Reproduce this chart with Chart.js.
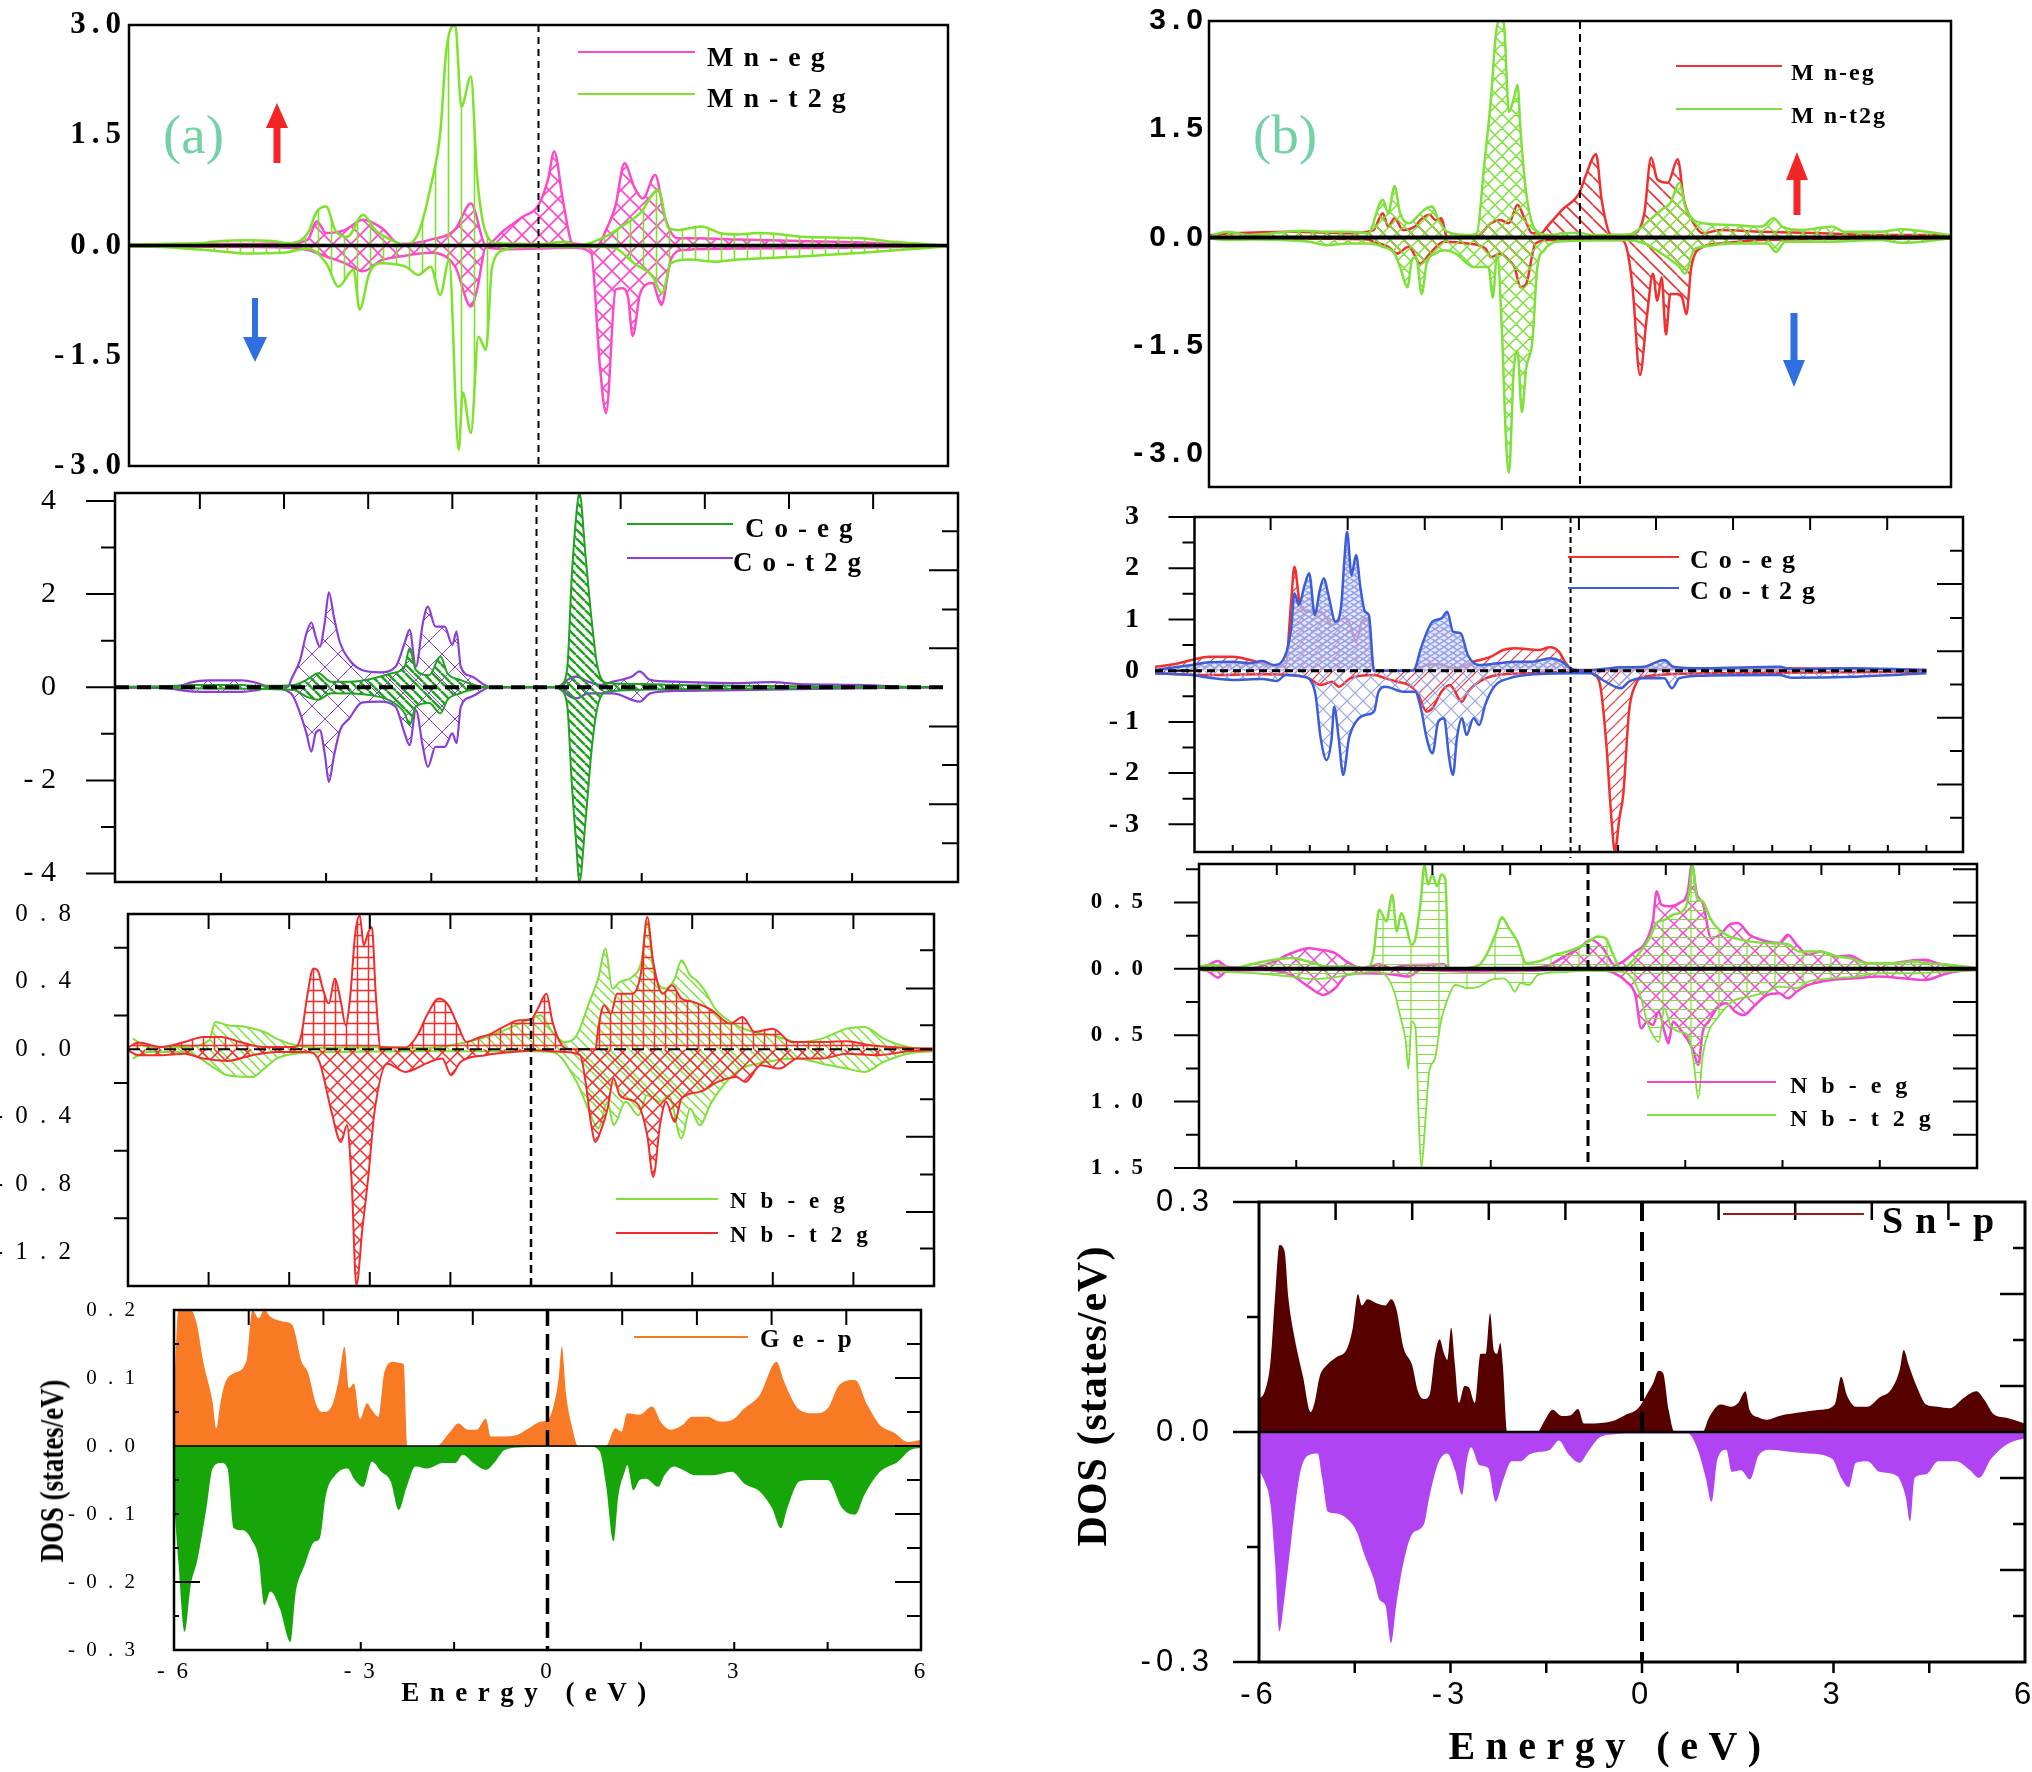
<!DOCTYPE html>
<html><head><meta charset="utf-8">
<script src="https://cdn.jsdelivr.net/npm/chart.js"></script>
<style>
html,body{margin:0;padding:0;background:#fff;}
body{width:2032px;height:1772px;position:relative;overflow:hidden;}
canvas{position:absolute;z-index:1;}
.t{position:absolute;white-space:nowrap;line-height:1;font-family:"Liberation Serif",serif;font-weight:bold;color:#000;transform:translateY(-50%);z-index:3;}
.ln{position:absolute;height:0;z-index:3;}
.c{transform:translate(-50%,-50%);}
svg{position:absolute;left:0;top:0;z-index:3;}
</style></head><body>

<div class="t" style="left:163px;top:134px;font-size:55px;font-weight:normal;color:#72d2a6;">(a)</div>
<div class="t" style="left:1253px;top:134px;font-size:55px;font-weight:normal;color:#72d2a6;">(b)</div>

<div class="ln" style="left:578px;top:51px;width:117px;border-top:2.5px solid #ff48c8;"></div>
<div class="ln" style="left:578px;top:93px;width:117px;border-top:2.5px solid #7ce22a;"></div>
<div class="t" style="left:707px;top:57px;font-size:28px;letter-spacing:10px;">Mn-eg</div>
<div class="t" style="left:707px;top:98px;font-size:28px;letter-spacing:10px;">Mn-t2g</div>

<div class="ln" style="left:627px;top:523px;width:106px;border-top:2px solid #22a022;"></div>
<div class="ln" style="left:627px;top:557px;width:106px;border-top:2.5px solid #8a3fd9;"></div>
<div class="t" style="left:745px;top:528px;font-size:27px;letter-spacing:10px;">Co-eg</div>
<div class="t" style="left:733px;top:562px;font-size:27px;letter-spacing:10px;">Co-t2g</div>

<div class="ln" style="left:616px;top:1198px;width:102px;border-top:2.5px solid #7ee03a;"></div>
<div class="ln" style="left:616px;top:1232px;width:102px;border-top:2.5px solid #f52a2a;"></div>
<div class="t" style="left:730px;top:1200px;font-size:23px;letter-spacing:14px;">Nb-eg</div>
<div class="t" style="left:730px;top:1234px;font-size:23px;letter-spacing:14px;">Nb-t2g</div>

<div class="ln" style="left:634px;top:1336px;width:114px;border-top:2px solid #f87a24;"></div>
<div class="t" style="left:760px;top:1338px;font-size:25px;letter-spacing:13px;">Ge-p</div>

<div class="ln" style="left:1676px;top:65px;width:106px;border-top:2.5px solid #f23232;"></div>
<div class="ln" style="left:1676px;top:108px;width:106px;border-top:2.5px solid #7ee03a;"></div>
<div class="t" style="left:1791px;top:72px;font-size:24px;letter-spacing:2px;">M n-eg</div>
<div class="t" style="left:1791px;top:115px;font-size:24px;letter-spacing:2px;">M n-t2g</div>

<div class="ln" style="left:1568px;top:556px;width:111px;border-top:2.5px solid #f03030;"></div>
<div class="ln" style="left:1568px;top:587px;width:111px;border-top:2.5px solid #3a5ed8;"></div>
<div class="t" style="left:1690px;top:560px;font-size:26px;letter-spacing:10px;">Co-eg</div>
<div class="t" style="left:1690px;top:591px;font-size:26px;letter-spacing:10px;">Co-t2g</div>

<div class="ln" style="left:1647px;top:1081px;width:129px;border-top:2.5px solid #f245d2;"></div>
<div class="ln" style="left:1647px;top:1114px;width:129px;border-top:2.5px solid #7ee03a;"></div>
<div class="t" style="left:1790px;top:1085px;font-size:24px;letter-spacing:14px;">Nb-eg</div>
<div class="t" style="left:1790px;top:1118px;font-size:24px;letter-spacing:14px;">Nb-t2g</div>

<div class="ln" style="left:1723px;top:1213px;width:141px;border-top:2px solid #9a1b1b;"></div>
<div class="t" style="left:1882px;top:1220px;font-size:38px;letter-spacing:12px;">Sn-p</div>

<div class="t c" style="left:529px;top:1692px;font-size:27px;letter-spacing:10.5px;">Energy (eV)</div>
<div class="t" style="left:52px;top:1471px;font-size:34px;transform:translate(-50%,-50%) rotate(-90deg) scale(0.79,1);">DOS (states/eV)</div>
<div class="t c" style="left:1610px;top:1746px;font-size:40px;letter-spacing:10.5px;">Energy (eV)</div>
<div class="t" style="left:1092px;top:1396px;font-size:42px;letter-spacing:1px;transform:translate(-50%,-50%) rotate(-90deg);">DOS (states/eV)</div>

<svg width="2032" height="1772" style="pointer-events:none">
  <polygon fill="#f42525" points="277,103 288,128 280.5,128 280.5,163 273.5,163 273.5,128 266,128"/>
  <polygon fill="#2f6fe0" points="255,362 267,337 258,337 258,298 252,298 252,337 243,337"/>
  <polygon fill="#f42525" points="1797,152 1808,180 1800.5,180 1800.5,215 1793.5,215 1793.5,180 1786,180"/>
  <polygon fill="#2f6fe0" points="1794,387 1805,360 1797.5,360 1797.5,313 1790.5,313 1790.5,360 1783,360"/>
</svg>

<script>
// ================= DATA (energy eV, DOS states/eV) =================
// (a) Mn d states
const mnA_eg_up = [[-6,0.01],[-5.2,0.02],[-4.3,0.02],[-3.66,0.03],[-3.38,0.08],[-3.25,0.33],[-3.11,0.17],[-2.84,0.21],[-2.57,0.35],[-2.3,0.24],[-2.03,0.02],[-1.58,0.08],[-1.22,0.22],[-0.99,0.57],[-0.77,0.01],[-0.5,0.21],[-0.23,0.39],[0,0.55],[0.14,0.9],[0.23,1.28],[0.36,0.6],[0.5,0.03],[0.86,0.0],[0.99,0.21],[1.13,0.55],[1.26,1.12],[1.4,0.8],[1.53,0.64],[1.71,0.96],[1.85,0.39],[2.03,0.1],[2.3,0.1],[2.93,0.08],[3.84,0.06],[4.74,0.04],[5.19,0.02],[6,0.0]];
const mnA_eg_dn = [[-6,-0.01],[-4.3,-0.02],[-3.66,-0.03],[-3.38,-0.06],[-3.11,-0.15],[-2.84,-0.24],[-2.57,-0.35],[-2.3,-0.2],[-2.03,-0.15],[-1.58,-0.1],[-1.22,-0.29],[-0.99,-0.83],[-0.9,-0.6],[-0.77,-0.03],[-0.5,-0.05],[0,-0.04],[0.5,-0.03],[0.77,-0.1],[0.9,-1.64],[0.99,-2.28],[1.13,-0.6],[1.22,-0.58],[1.31,-0.69],[1.38,-1.23],[1.49,-0.65],[1.67,-0.51],[1.8,-0.81],[1.94,-0.19],[2.12,-0.06],[3,-0.04],[4.5,-0.03],[6,-0.01]];
const mnA_t2g_up = [[-6,0.01],[-5.5,0.02],[-5.0,0.03],[-4.65,0.06],[-4.3,0.07],[-3.9,0.06],[-3.66,0.03],[-3.38,0.17],[-3.25,0.46],[-3.11,0.53],[-2.98,0.21],[-2.8,0.12],[-2.57,0.42],[-2.39,0.21],[-2.21,0.1],[-1.94,0.01],[-1.76,0.17],[-1.58,0.8],[-1.44,1.53],[-1.35,2.66],[-1.22,3.0],[-1.13,1.89],[-0.99,2.3],[-0.9,0.94],[-0.77,0.17],[-0.59,0.03],[0,0.02],[0.41,0.05],[0.55,0.0],[1.04,0.15],[1.22,0.26],[1.49,0.44],[1.76,0.76],[1.89,0.26],[2.03,0.21],[2.39,0.26],[2.66,0.17],[2.93,0.15],[3.2,0.17],[3.57,0.15],[3.84,0.12],[4.74,0.1],[5.19,0.05],[6,0.0]];
const mnA_t2g_dn = [[-6,-0.01],[-5.5,-0.02],[-4.65,-0.08],[-4.29,-0.11],[-3.75,-0.1],[-3.38,-0.04],[-3.11,-0.24],[-2.93,-0.56],[-2.71,-0.33],[-2.62,-0.87],[-2.48,-0.38],[-2.3,-0.24],[-1.94,-0.29],[-1.76,-0.4],[-1.58,-0.29],[-1.44,-0.67],[-1.31,-0.2],[-1.17,-2.78],[-1.11,-2.0],[-0.99,-2.55],[-0.88,-1.24],[-0.77,-1.42],[-0.68,-0.29],[-0.5,-0.06],[-0.23,-0.02],[0.95,-0.02],[1.13,-0.04],[1.4,-0.24],[1.67,-0.42],[1.81,-0.65],[1.94,-0.24],[2.21,-0.19],[2.57,-0.22],[2.93,-0.19],[3.84,-0.15],[4.74,-0.1],[5.6,-0.04],[6,-0.01]];
// (a) Co d states
const coA_eg_up = [[-6,0.0],[-5.03,0.03],[-4.94,0.05],[-4.2,0.05],[-3.98,0.03],[-3.46,0.05],[-3.28,0.16],[-3.11,0.3],[-2.93,0.12],[-2.67,0.12],[-2.41,0.16],[-2.06,0.3],[-1.88,0.44],[-1.81,0.84],[-1.72,0.37],[-1.53,0.26],[-1.37,0.66],[-1.27,0.3],[-1.09,0.16],[-0.83,0.03],[-0.7,0.0],[0.26,0.0],[0.35,0.05],[0.44,0.44],[0.5,2.31],[0.57,3.74],[0.61,4.19],[0.7,2.81],[0.79,1.38],[0.87,0.44],[1.01,0.09],[1.53,0.07],[1.97,0.05],[2.84,0.03],[4.59,0.01],[5.64,0.0]];
const coA_eg_dn = [[-6,0.0],[-5.03,-0.02],[-4.2,-0.03],[-3.46,-0.06],[-3.28,-0.2],[-3.11,-0.27],[-2.93,-0.13],[-2.41,-0.16],[-2.06,-0.31],[-1.88,-0.56],[-1.81,-0.81],[-1.72,-0.42],[-1.53,-0.34],[-1.37,-0.56],[-1.27,-0.27],[-1.09,-0.13],[-0.83,-0.02],[-0.7,0.0],[0.26,0.0],[0.35,-0.06],[0.44,-0.42],[0.5,-1.99],[0.57,-3.43],[0.61,-4.19],[0.7,-2.85],[0.79,-1.28],[0.87,-0.42],[1.01,-0.09],[1.97,-0.04],[4.59,-0.01],[5.64,0.0]];
const coA_t2g_up = [[-6,0.01],[-5.3,0.02],[-5.03,0.05],[-4.94,0.1],[-4.68,0.15],[-4.2,0.15],[-3.98,0.09],[-3.81,0.01],[-3.54,0.01],[-3.5,0.16],[-3.37,0.59],[-3.28,1.16],[-3.21,1.39],[-3.15,1.09],[-3.09,0.87],[-3.02,1.38],[-2.96,2.04],[-2.89,1.52],[-2.8,0.95],[-2.67,0.59],[-2.49,0.37],[-2.23,0.32],[-2.01,0.44],[-1.88,0.95],[-1.81,1.23],[-1.72,0.44],[-1.62,1.38],[-1.55,1.73],[-1.44,1.3],[-1.31,1.3],[-1.2,0.91],[-1.14,1.2],[-1.08,0.44],[-0.92,0.23],[-0.74,0.05],[-0.66,0.0],[0.35,0.0],[0.44,0.16],[0.57,0.23],[0.74,0.12],[0.92,0.05],[1.09,0.12],[1.36,0.23],[1.47,0.34],[1.62,0.16],[1.97,0.12],[2.41,0.1],[2.84,0.09],[3.37,0.11],[3.72,0.07],[4.59,0.05],[5.21,0.01],[5.64,0.0]];
const coA_t2g_dn = [[-6,-0.01],[-5.3,-0.02],[-4.94,-0.09],[-4.68,-0.1],[-4.2,-0.1],[-3.98,-0.06],[-3.81,-0.01],[-3.5,-0.13],[-3.37,-0.56],[-3.28,-0.99],[-3.21,-1.38],[-3.15,-0.99],[-3.09,-0.92],[-3.02,-1.42],[-2.96,-2.03],[-2.89,-1.49],[-2.8,-0.92],[-2.67,-0.67],[-2.49,-0.33],[-2.23,-0.31],[-2.01,-0.42],[-1.88,-0.99],[-1.81,-1.24],[-1.72,-0.49],[-1.62,-1.28],[-1.55,-1.71],[-1.44,-1.28],[-1.31,-1.28],[-1.2,-0.99],[-1.14,-1.2],[-1.08,-0.42],[-0.92,-0.2],[-0.74,-0.04],[-0.66,0.0],[0.35,0.0],[0.44,-0.16],[0.57,-0.24],[0.74,-0.13],[1.09,-0.13],[1.47,-0.31],[1.62,-0.13],[1.97,-0.08],[2.84,-0.06],[3.72,-0.04],[5.21,-0.01],[5.64,0.0]];
// (a) Nb d states
const nbA_eg_up = [[-5.93,0.063],[-5.7,0.014],[-5.16,0.014],[-4.79,0.053],[-4.7,0.162],[-4.52,0.142],[-4.24,0.132],[-3.97,0.102],[-3.79,0.063],[-3.51,0.024],[-3.15,0.008],[-2.42,0.014],[-1.51,0.008],[-0.96,0.043],[-0.59,0.083],[-0.23,0.142],[-0.05,0.171],[0.14,0.201],[0.32,0.102],[0.5,0.043],[0.68,0.083],[0.87,0.28],[1.0,0.418],[1.11,0.595],[1.21,0.359],[1.32,0.398],[1.51,0.428],[1.64,0.516],[1.73,0.753],[1.82,0.477],[2.01,0.359],[2.14,0.418],[2.24,0.526],[2.37,0.437],[2.46,0.408],[2.6,0.339],[2.74,0.24],[3.06,0.142],[3.33,0.102],[3.6,0.083],[3.97,0.043],[4.33,0.063],[4.7,0.122],[4.97,0.132],[5.25,0.063],[5.61,0.014],[5.98,0.004]];
const nbA_eg_dn = [[-5.93,-0.055],[-5.7,-0.016],[-5.16,-0.016],[-4.7,-0.114],[-4.52,-0.154],[-4.15,-0.164],[-3.97,-0.114],[-3.79,-0.055],[-3.51,-0.026],[-2.87,-0.016],[-1.51,-0.012],[-0.59,-0.012],[-0.05,-0.012],[0.32,-0.016],[0.68,-0.193],[0.87,-0.37],[1.0,-0.469],[1.14,-0.311],[1.23,-0.449],[1.41,-0.311],[1.6,-0.39],[1.73,-0.272],[1.92,-0.311],[2.05,-0.272],[2.24,-0.528],[2.37,-0.351],[2.51,-0.449],[2.69,-0.311],[3.06,-0.134],[3.51,-0.075],[3.97,-0.055],[4.33,-0.085],[4.7,-0.114],[4.97,-0.134],[5.25,-0.075],[5.61,-0.026],[5.98,-0.012]];
const nbA_t2g_up = [[-6,0.01],[-5.84,0.04],[-5.52,0.014],[-5.16,0.043],[-4.88,0.073],[-4.61,0.073],[-4.33,0.043],[-3.97,0.014],[-3.51,0.014],[-3.42,0.083],[-3.33,0.319],[-3.24,0.477],[-3.17,0.461],[-3.1,0.359],[-3.01,0.27],[-2.92,0.418],[-2.83,0.28],[-2.76,0.142],[-2.69,0.319],[-2.62,0.674],[-2.55,0.792],[-2.49,0.615],[-2.42,0.694],[-2.37,0.723],[-2.31,0.319],[-2.24,0.014],[-1.87,0.01],[-1.69,0.083],[-1.55,0.201],[-1.37,0.3],[-1.23,0.26],[-1.09,0.142],[-0.96,0.043],[-0.82,0.063],[-0.59,0.093],[-0.41,0.132],[-0.18,0.171],[0,0.177],[0.09,0.231],[0.23,0.329],[0.32,0.162],[0.46,0.024],[0.59,0.0],[0.96,0.0],[1.0,0.122],[1.09,0.26],[1.19,0.211],[1.28,0.329],[1.51,0.329],[1.64,0.457],[1.73,0.782],[1.82,0.516],[1.96,0.329],[2.1,0.378],[2.24,0.3],[2.42,0.28],[2.69,0.231],[2.97,0.152],[3.15,0.191],[3.33,0.102],[3.6,0.122],[3.88,0.043],[4.24,0.043],[4.7,0.047],[5.06,0.024],[5.61,0.008],[5.98,0.004]];
const nbA_t2g_dn = [[-6,-0.006],[-5.84,-0.035],[-5.52,-0.035],[-5.16,-0.026],[-4.88,-0.055],[-4.52,-0.069],[-4.15,-0.035],[-3.79,-0.016],[-3.33,-0.016],[-3.15,-0.075],[-2.97,-0.37],[-2.83,-0.548],[-2.74,-0.449],[-2.67,-0.784],[-2.6,-1.395],[-2.51,-1.06],[-2.42,-0.745],[-2.33,-0.37],[-2.14,-0.085],[-1.87,-0.134],[-1.51,-0.075],[-1.32,-0.055],[-1.19,-0.154],[-1.05,-0.075],[-0.68,-0.035],[-0.14,-0.012],[0.05,-0.006],[0.5,-0.016],[0.73,-0.035],[0.82,-0.213],[0.89,-0.43],[0.96,-0.548],[1.05,-0.469],[1.14,-0.351],[1.23,-0.173],[1.32,-0.272],[1.41,-0.292],[1.6,-0.331],[1.73,-0.508],[1.82,-0.755],[1.92,-0.449],[2.01,-0.311],[2.14,-0.43],[2.24,-0.292],[2.51,-0.252],[2.78,-0.193],[3.06,-0.164],[3.19,-0.193],[3.42,-0.095],[3.7,-0.114],[3.97,-0.055],[4.33,-0.055],[4.7,-0.026],[5.16,-0.035],[5.61,-0.012],[5.98,-0.006]];
// (a) Ge p states
const geP_up = [[-6,0.07],[-5.93,0.2],[-5.73,0.2],[-5.63,0.178],[-5.53,0.124],[-5.38,0.065],[-5.32,0.026],[-5.26,0.06],[-5.19,0.09],[-5.04,0.107],[-4.84,0.124],[-4.74,0.2],[-4.64,0.188],[-4.55,0.2],[-4.45,0.19],[-4.25,0.183],[-4.1,0.178],[-3.95,0.124],[-3.85,0.109],[-3.71,0.06],[-3.61,0.05],[-3.46,0.06],[-3.36,0.095],[-3.26,0.146],[-3.19,0.085],[-3.11,0.092],[-3.01,0.04],[-2.9,0.063],[-2.82,0.053],[-2.72,0.043],[-2.62,0.109],[-2.47,0.124],[-2.37,0.122],[-2.31,0.12],[-2.25,0.0],[-1.78,0.0],[-1.58,0.019],[-1.43,0.033],[-1.28,0.024],[-1.14,0.024],[-0.99,0.04],[-0.91,0.014],[-0.69,0.014],[-0.49,0.016],[-0.3,0.026],[-0.1,0.036],[0,0.038],[0.1,0.06],[0.18,0.1],[0.23,0.146],[0.3,0.075],[0.4,0.026],[0.49,0.0],[0.94,0.0],[1.09,0.026],[1.19,0.021],[1.28,0.048],[1.48,0.046],[1.68,0.058],[1.83,0.034],[1.98,0.024],[2.17,0.031],[2.32,0.043],[2.57,0.043],[2.77,0.036],[2.96,0.038],[3.16,0.055],[3.41,0.075],[3.68,0.124],[3.8,0.095],[4.05,0.053],[4.3,0.048],[4.5,0.055],[4.69,0.09],[4.94,0.097],[5.14,0.06],[5.34,0.031],[5.58,0.019],[5.78,0.006],[6,0.009]];
const geP_dn = [[-6,-0.082],[-5.93,-0.17],[-5.83,-0.273],[-5.73,-0.204],[-5.63,-0.17],[-5.48,-0.092],[-5.38,-0.033],[-5.24,-0.025],[-5.14,-0.033],[-5.04,-0.121],[-4.89,-0.124],[-4.74,-0.14],[-4.64,-0.165],[-4.55,-0.234],[-4.45,-0.214],[-4.3,-0.239],[-4.13,-0.288],[-4.05,-0.219],[-3.9,-0.175],[-3.75,-0.141],[-3.66,-0.136],[-3.56,-0.072],[-3.41,-0.043],[-3.21,-0.033],[-3.11,-0.048],[-2.96,-0.06],[-2.82,-0.023],[-2.67,-0.038],[-2.52,-0.052],[-2.39,-0.094],[-2.27,-0.062],[-2.12,-0.03],[-1.93,-0.033],[-1.68,-0.025],[-1.48,-0.025],[-1.36,-0.013],[-1.19,-0.025],[-0.99,-0.035],[-0.84,-0.023],[-0.69,-0.006],[-0.4,-0.002],[0,-0.001],[0.69,-0.001],[0.84,-0.008],[0.94,-0.057],[1.06,-0.14],[1.14,-0.072],[1.24,-0.038],[1.28,-0.028],[1.38,-0.065],[1.48,-0.05],[1.58,-0.048],[1.78,-0.06],[1.88,-0.043],[2.03,-0.03],[2.17,-0.035],[2.37,-0.043],[2.67,-0.043],[2.96,-0.038],[3.16,-0.055],[3.41,-0.067],[3.61,-0.092],[3.75,-0.121],[3.85,-0.092],[4.05,-0.052],[4.25,-0.05],[4.5,-0.05],[4.74,-0.092],[4.94,-0.101],[5.09,-0.072],[5.34,-0.038],[5.63,-0.023],[5.83,-0.006],[6,-0.003]];
// (b) Mn d states
const mnB_eg_up = [[-6,0.03],[-5.62,0.056],[-4.67,0.079],[-3.72,0.056],[-3.34,0.103],[-3.19,0.336],[-3.1,0.15],[-3.0,0.266],[-2.86,0.103],[-2.67,0.15],[-2.58,0.243],[-2.43,0.313],[-2.34,0.243],[-2.24,0.266],[-2.15,0.0],[-1.82,0.0],[-1.63,0.033],[-1.44,0.196],[-1.29,0.243],[-1.15,0.196],[-1.01,0.453],[-0.91,0.29],[-0.77,0.056],[-0.63,0.056],[-0.53,0.15],[-0.29,0.383],[-0.01,0.617],[0.09,0.85],[0.26,1.154],[0.35,0.523],[0.51,0.033],[0.75,0.033],[0.89,0.056],[1.04,0.336],[1.15,1.107],[1.25,0.804],[1.42,0.757],[1.58,1.084],[1.68,0.523],[1.84,0.196],[1.99,0.056],[2.27,0.103],[2.94,0.079],[3.89,0.056],[4.84,0.033],[5.79,0.033],[6,0.02]];
const mnB_eg_dn = [[-6,-0.01],[-4.67,-0.014],[-3.43,-0.028],[-3.34,-0.061],[-3.1,-0.131],[-2.96,-0.224],[-2.77,-0.131],[-2.58,-0.364],[-2.43,-0.224],[-2.2,-0.061],[-1.82,-0.084],[-1.53,-0.154],[-1.44,-0.271],[-1.29,-0.224],[-1.15,-0.318],[-1.06,-0.411],[-0.96,-0.692],[-0.87,-0.645],[-0.72,-0.084],[-0.48,-0.037],[0.66,-0.037],[0.75,-0.131],[0.85,-0.692],[0.97,-1.907],[1.08,-1.112],[1.18,-0.505],[1.25,-0.879],[1.32,-0.551],[1.39,-1.346],[1.46,-0.785],[1.56,-0.785],[1.65,-0.832],[1.72,-1.065],[1.8,-0.411],[1.99,-0.131],[2.27,-0.084],[2.94,-0.037],[5.98,-0.014]];
const mnB_t2g_up = [[-6,0.01],[-5.71,0.079],[-5.33,0.033],[-4.48,0.093],[-4.1,0.079],[-3.72,0.079],[-3.43,0.056],[-3.19,0.523],[-3.1,0.336],[-3.0,0.71],[-2.91,0.336],[-2.77,0.196],[-2.58,0.336],[-2.48,0.407],[-2.39,0.43],[-2.29,0.243],[-2.15,0.079],[-1.82,0.033],[-1.67,0.056],[-1.55,0.991],[-1.44,1.925],[-1.36,2.813],[-1.29,3.047],[-1.23,2.953],[-1.15,1.738],[-1.07,1.925],[-1.01,2.112],[-0.96,1.458],[-0.87,0.617],[-0.72,0.103],[-0.48,0.033],[-0.29,0.056],[-0.01,0.065],[0.18,0.033],[0.75,0.033],[0.94,0.103],[1.13,0.243],[1.32,0.383],[1.46,0.477],[1.61,0.757],[1.7,0.43],[1.84,0.243],[1.99,0.196],[2.46,0.173],[2.94,0.15],[3.13,0.266],[3.27,0.15],[3.6,0.103],[4.08,0.15],[4.27,0.079],[4.84,0.079],[5.22,0.112],[5.6,0.079],[5.98,0.033]];
const mnB_t2g_dn = [[-6,-0.01],[-5.71,-0.037],[-5.33,-0.028],[-4.38,-0.061],[-4.1,-0.107],[-3.72,-0.084],[-3.43,-0.084],[-3.19,-0.131],[-3.0,-0.224],[-2.91,-0.411],[-2.79,-0.692],[-2.72,-0.318],[-2.65,-0.271],[-2.56,-0.785],[-2.48,-0.364],[-2.34,-0.224],[-2.2,-0.178],[-2.01,-0.224],[-1.72,-0.411],[-1.48,-0.411],[-1.41,-0.832],[-1.34,-0.224],[-1.26,-1.346],[-1.2,-2.748],[-1.15,-3.262],[-1.07,-1.813],[-1.01,-1.579],[-0.94,-2.421],[-0.87,-1.813],[-0.77,-1.439],[-0.69,-0.411],[-0.58,-0.178],[-0.39,-0.061],[0.75,-0.037],[1.04,-0.084],[1.32,-0.224],[1.61,-0.411],[1.7,-0.505],[1.84,-0.178],[1.99,-0.131],[2.46,-0.084],[3.03,-0.084],[3.17,-0.201],[3.32,-0.061],[3.89,-0.061],[4.84,-0.037],[5.22,-0.075],[5.98,-0.014]];
// (b) Co d states
const coB_eg_up = [[-6.47,0.078],[-6.36,0.091],[-6.18,0.124],[-5.9,0.208],[-5.63,0.273],[-5.26,0.273],[-4.99,0.208],[-4.71,0.111],[-4.44,0.078],[-4.35,1.347],[-4.3,2.03],[-4.21,1.282],[-4.07,1.152],[-3.89,1.152],[-3.71,0.891],[-3.52,1.021],[-3.43,0.891],[-3.34,0.566],[-3.25,0.956],[-3.16,1.021],[-3.06,0.0],[-2.52,0.0],[-2.42,0.013],[-2.24,0.111],[-2.06,0.124],[-1.78,0.046],[-1.51,0.176],[-1.24,0.273],[-1.05,0.403],[-0.87,0.436],[-0.69,0.423],[-0.5,0.403],[-0.32,0.455],[-0.18,0.371],[-0.09,0.176],[0.05,0.013],[1.14,0.033],[3.25,0.046],[5.54,0.013]];
const coB_eg_dn = [[-6.47,-0.052],[-5.72,-0.085],[-4.8,-0.072],[-4.35,-0.085],[-4.07,-0.15],[-3.89,-0.28],[-3.71,-0.215],[-3.61,-0.312],[-3.43,-0.15],[-3.06,-0.085],[-2.88,-0.15],[-2.7,-0.215],[-2.52,-0.28],[-2.38,-0.442],[-2.24,-0.8],[-2.15,-0.735],[-2.01,-0.41],[-1.88,-0.28],[-1.69,-0.605],[-1.6,-0.41],[-1.42,-0.215],[-1.14,-0.085],[-0.69,-0.052],[0.05,-0.02],[0.23,-0.02],[0.37,-0.085],[0.46,-0.28],[0.55,-1.321],[0.64,-2.947],[0.69,-3.533],[0.76,-2.882],[0.82,-2.427],[0.91,-0.8],[1.01,-0.28],[1.14,-0.117],[2.06,-0.052],[5.54,-0.02]];
const coB_t2g_up = [[-6.47,0.013],[-5.9,0.111],[-5.63,0.163],[-5.26,0.176],[-4.99,0.143],[-4.8,0.189],[-4.62,0.111],[-4.44,0.306],[-4.35,0.826],[-4.3,1.509],[-4.23,1.282],[-4.14,1.672],[-4.07,1.9],[-3.98,1.087],[-3.91,1.542],[-3.84,1.802],[-3.77,1.477],[-3.66,0.956],[-3.57,1.282],[-3.52,2.193],[-3.48,2.713],[-3.41,1.867],[-3.34,2.258],[-3.27,1.607],[-3.2,1.152],[-3.14,1.087],[-3.06,0.0],[-2.47,0.0],[-2.42,0.046],[-2.33,0.436],[-2.15,0.956],[-2.01,1.021],[-1.92,1.152],[-1.83,0.761],[-1.71,0.729],[-1.6,0.306],[-1.42,0.111],[-1.14,0.143],[-0.87,0.176],[-0.59,0.176],[-0.32,0.241],[-0.14,0.176],[0.0,0.046],[0.23,0.0],[0.5,0.033],[0.78,0.065],[1.14,0.078],[1.46,0.208],[1.6,0.078],[2.06,0.046],[3.25,0.078],[3.43,0.033],[4.39,0.046],[5.54,0.013]];
const coB_t2g_dn = [[-6.47,-0.052],[-5.9,-0.085],[-5.63,-0.137],[-5.26,-0.182],[-4.8,-0.163],[-4.57,-0.202],[-4.44,-0.085],[-4.16,-0.117],[-3.98,-0.41],[-3.89,-1.321],[-3.8,-1.744],[-3.72,-1.321],[-3.68,-0.703],[-3.61,-1.321],[-3.54,-2.036],[-3.45,-1.321],[-3.34,-0.995],[-3.2,-0.865],[-3.06,-0.8],[-2.99,-0.41],[-2.88,-0.312],[-2.61,-0.41],[-2.42,-0.41],[-2.33,-0.735],[-2.24,-1.321],[-2.15,-1.614],[-2.06,-0.995],[-1.97,-0.93],[-1.89,-1.711],[-1.83,-2.036],[-1.77,-1.321],[-1.69,-0.93],[-1.62,-1.256],[-1.51,-0.93],[-1.42,-1.061],[-1.33,-0.67],[-1.19,-0.312],[-0.96,-0.15],[-0.69,-0.085],[0,-0.052],[0.32,-0.052],[0.5,-0.182],[0.78,-0.345],[0.91,-0.215],[1.14,-0.15],[1.46,-0.15],[1.58,-0.345],[1.69,-0.15],[2.06,-0.098],[3.25,-0.085],[3.43,-0.137],[4.44,-0.117],[5.54,-0.052]];
// (b) Nb d states
const nbB_eg_up = [[-6,0.005],[-5.85,0.03],[-5.71,0.06],[-5.58,0.018],[-5.21,0.005],[-4.85,0.055],[-4.58,0.118],[-4.31,0.156],[-4.13,0.144],[-3.9,0.118],[-3.72,0.055],[-3.49,0.005],[-3.22,0.035],[-3.04,0.005],[-2.77,0.03],[-2.49,0.03],[-2.22,0.035],[-2.13,0.0],[-1.86,0.0],[-0.95,0.005],[-0.59,0.03],[-0.41,0.081],[-0.14,0.156],[0.05,0.219],[0.23,0.156],[0.41,0.03],[0.54,0.055],[0.73,0.131],[0.86,0.181],[1.0,0.358],[1.06,0.584],[1.13,0.484],[1.27,0.471],[1.41,0.496],[1.54,0.584],[1.6,0.786],[1.68,0.559],[1.77,0.496],[1.9,0.232],[2.04,0.257],[2.18,0.332],[2.31,0.345],[2.49,0.257],[2.67,0.219],[2.95,0.194],[3.08,0.257],[3.22,0.181],[3.4,0.106],[3.58,0.131],[3.85,0.093],[4.03,0.101],[4.31,0.043],[4.67,0.043],[4.94,0.06],[5.21,0.068],[5.39,0.043],[5.76,0.018],[6,0.005]];
const nbB_eg_dn = [[-6,-0.005],[-5.85,-0.02],[-5.71,-0.065],[-5.58,-0.02],[-5.03,-0.008],[-4.58,-0.045],[-4.31,-0.134],[-4.08,-0.196],[-3.9,-0.146],[-3.72,-0.045],[-3.49,-0.033],[-3.04,-0.04],[-2.77,-0.058],[-2.58,-0.008],[-1.86,-0.02],[-0.95,-0.015],[-0.5,-0.008],[0.14,-0.008],[0.41,-0.033],[0.59,-0.096],[0.73,-0.196],[0.82,-0.448],[0.91,-0.398],[1.0,-0.423],[1.09,-0.322],[1.18,-0.474],[1.24,-0.562],[1.31,-0.398],[1.41,-0.448],[1.54,-0.537],[1.63,-0.625],[1.7,-0.725],[1.77,-0.474],[1.86,-0.398],[1.99,-0.297],[2.13,-0.259],[2.27,-0.322],[2.4,-0.348],[2.58,-0.272],[2.77,-0.196],[2.95,-0.184],[3.08,-0.222],[3.22,-0.171],[3.4,-0.121],[3.76,-0.083],[4.13,-0.071],[4.49,-0.058],[4.85,-0.071],[5.21,-0.083],[5.49,-0.04],[5.76,-0.015],[6,-0.008]];
const nbB_t2g_up = [[-6,0.018],[-5.76,0.03],[-5.49,0.005],[-5.12,0.043],[-4.85,0.068],[-4.58,0.081],[-4.31,0.055],[-4.03,0.018],[-3.67,0.018],[-3.4,0.005],[-3.31,0.106],[-3.22,0.446],[-3.11,0.358],[-3.02,0.559],[-2.95,0.282],[-2.88,0.421],[-2.81,0.332],[-2.72,0.181],[-2.66,0.232],[-2.58,0.509],[-2.52,0.786],[-2.47,0.635],[-2.4,0.71],[-2.33,0.622],[-2.26,0.71],[-2.2,0.673],[-2.15,0.005],[-2.04,0.0],[-1.68,0.03],[-1.54,0.131],[-1.41,0.282],[-1.33,0.388],[-1.22,0.307],[-1.09,0.207],[-0.95,0.043],[-0.77,0.055],[-0.5,0.106],[-0.23,0.144],[-0.05,0.186],[0.09,0.232],[0.15,0.244],[0.27,0.232],[0.39,0.106],[0.5,0.005],[0.59,0.018],[0.77,0.106],[0.95,0.232],[1.06,0.345],[1.18,0.37],[1.31,0.408],[1.5,0.458],[1.57,0.61],[1.61,0.786],[1.68,0.534],[1.77,0.509],[1.86,0.408],[1.95,0.332],[2.13,0.257],[2.49,0.207],[2.77,0.194],[3.08,0.186],[3.26,0.131],[3.58,0.131],[3.85,0.093],[4.03,0.081],[4.31,0.043],[4.67,0.043],[5.03,0.055],[5.21,0.043],[5.58,0.03],[6,0.005]];
const nbB_t2g_dn = [[-6,-0.008],[-5.85,-0.015],[-5.49,-0.025],[-5.12,-0.033],[-4.85,-0.045],[-4.58,-0.058],[-4.31,-0.076],[-4.03,-0.071],[-3.67,-0.045],[-3.31,-0.02],[-3.13,-0.045],[-2.99,-0.171],[-2.9,-0.348],[-2.81,-0.549],[-2.77,-0.751],[-2.72,-0.398],[-2.66,-0.448],[-2.61,-1.154],[-2.57,-1.494],[-2.51,-1.154],[-2.45,-0.776],[-2.36,-0.675],[-2.27,-0.398],[-2.18,-0.247],[-2.04,-0.121],[-1.86,-0.146],[-1.68,-0.134],[-1.5,-0.083],[-1.31,-0.071],[-1.21,-0.108],[-1.13,-0.171],[-1.04,-0.108],[-0.91,-0.121],[-0.77,-0.045],[-0.41,-0.025],[-0.05,-0.015],[0.5,-0.02],[0.68,-0.071],[0.82,-0.222],[0.91,-0.398],[1.0,-0.499],[1.09,-0.549],[1.18,-0.297],[1.27,-0.423],[1.41,-0.474],[1.54,-0.499],[1.63,-0.7],[1.7,-0.977],[1.77,-0.65],[1.86,-0.474],[1.99,-0.373],[2.22,-0.247],[2.49,-0.209],[2.77,-0.171],[2.95,-0.134],[3.22,-0.146],[3.4,-0.096],[3.76,-0.071],[4.13,-0.058],[4.49,-0.033],[5.03,-0.033],[5.39,-0.025],[6,-0.008]];
// (b) Sn p states
const snP_up = [[-6,0.043],[-5.91,0.053],[-5.82,0.092],[-5.75,0.175],[-5.68,0.244],[-5.6,0.236],[-5.54,0.175],[-5.45,0.126],[-5.31,0.072],[-5.19,0.026],[-5.13,0.038],[-5.05,0.072],[-4.94,0.087],[-4.8,0.097],[-4.62,0.109],[-4.53,0.136],[-4.45,0.18],[-4.39,0.165],[-4.3,0.173],[-4.16,0.168],[-4.02,0.165],[-3.93,0.173],[-3.85,0.161],[-3.74,0.111],[-3.6,0.087],[-3.51,0.053],[-3.42,0.043],[-3.33,0.048],[-3.24,0.102],[-3.17,0.121],[-3.1,0.102],[-3.05,0.094],[-2.99,0.136],[-2.93,0.087],[-2.87,0.038],[-2.78,0.06],[-2.71,0.058],[-2.62,0.038],[-2.53,0.102],[-2.45,0.102],[-2.38,0.155],[-2.32,0.106],[-2.27,0.102],[-2.22,0.116],[-2.18,0.087],[-2.11,0.0],[-1.64,0.0],[-1.53,0.014],[-1.4,0.029],[-1.26,0.021],[-1.12,0.022],[-1.0,0.03],[-0.91,0.011],[-0.61,0.012],[-0.43,0.015],[-0.24,0.023],[-0.06,0.031],[0.08,0.05],[0.17,0.063],[0.26,0.08],[0.33,0.077],[0.42,0.028],[0.51,0.0],[0.95,0.0],[1.05,0.019],[1.23,0.036],[1.41,0.033],[1.51,0.038],[1.62,0.053],[1.69,0.028],[1.83,0.019],[1.96,0.016],[2.15,0.021],[2.52,0.026],[2.79,0.029],[3.02,0.036],[3.12,0.072],[3.21,0.048],[3.35,0.033],[3.53,0.033],[3.72,0.045],[3.9,0.055],[4.04,0.082],[4.1,0.107],[4.18,0.087],[4.31,0.058],[4.45,0.036],[4.64,0.033],[4.82,0.031],[5.05,0.045],[5.24,0.053],[5.37,0.041],[5.51,0.023],[5.74,0.018],[6,0.011]];
const snP_dn = [[-6,-0.05],[-5.91,-0.065],[-5.82,-0.094],[-5.75,-0.167],[-5.68,-0.26],[-5.6,-0.216],[-5.49,-0.138],[-5.36,-0.055],[-5.22,-0.03],[-5.08,-0.028],[-5.01,-0.06],[-4.92,-0.104],[-4.8,-0.106],[-4.62,-0.113],[-4.48,-0.128],[-4.34,-0.162],[-4.2,-0.192],[-4.11,-0.219],[-4.02,-0.226],[-3.93,-0.275],[-3.85,-0.226],[-3.74,-0.172],[-3.6,-0.133],[-3.42,-0.121],[-3.33,-0.084],[-3.19,-0.04],[-3.05,-0.028],[-2.93,-0.05],[-2.82,-0.082],[-2.75,-0.04],[-2.68,-0.02],[-2.55,-0.043],[-2.41,-0.047],[-2.29,-0.091],[-2.18,-0.064],[-2.04,-0.038],[-1.9,-0.038],[-1.76,-0.029],[-1.63,-0.026],[-1.44,-0.023],[-1.3,-0.011],[-1.16,-0.028],[-0.98,-0.04],[-0.84,-0.025],[-0.66,-0.007],[-0.43,-0.003],[-0.06,-0.002],[0.72,-0.002],[0.86,-0.02],[1.0,-0.06],[1.09,-0.091],[1.18,-0.036],[1.32,-0.023],[1.41,-0.052],[1.55,-0.05],[1.69,-0.062],[1.83,-0.03],[2.01,-0.023],[2.24,-0.025],[2.61,-0.028],[2.98,-0.035],[3.12,-0.06],[3.24,-0.072],[3.35,-0.04],[3.53,-0.038],[3.72,-0.052],[3.99,-0.057],[4.13,-0.084],[4.2,-0.116],[4.27,-0.06],[4.45,-0.055],[4.64,-0.038],[4.92,-0.038],[5.14,-0.05],[5.28,-0.06],[5.47,-0.035],[5.74,-0.015],[6,-0.008]];

// ================= AXIS TICKS / LABELS =================
const yTickA1=[3,1.5,0,-1.5,-3], yLabA1=['3.0','1.5','0.0','-1.5','-3.0'];
const yTickA2=[4,2,0,-2,-4], yLabA2=['4','2','0','- 2','- 4'];
const yTickA3=[0.8,0.4,0,-0.4,-0.8,-1.2], yLabA3=['0 . 8','0 . 4','0 . 0','- 0 . 4','- 0 . 8','- 1 . 2'];
const yTickA4=[0.2,0.1,0,-0.1,-0.2,-0.3], yLabA4=['0 . 2','0 . 1','0 . 0','- 0 . 1','- 0 . 2','- 0 . 3'];
const xTickE=[-6,-3,0,3,6], xLabA4=['- 6','- 3','0','3','6'], xLabB4=['-6','-3','0','3','6'];
const yTickB1=[3,1.5,0,-1.5,-3], yLabB1=['3.0','1.5','0.0','-1.5','-3.0'];
const yTickB2=[3,2,1,0,-1,-2,-3], yLabB2=['3','2','1','0','- 1','- 2','- 3'];
const yTickB3=[0.5,0,-0.5,-1,-1.5], yLabB3=['0 . 5','0 . 0','0 . 5','1 . 0','1 . 5'];
const yTickB4=[0.3,0,-0.3], yLabB4=['0.3','0.0','-0.3'];
const e12=[-4.8,-3.6,-2.4,-1.2,1.2,2.4,3.6,4.8];
const e15=[-4.5,-3,-1.5,1.5,3,4.5];

// ================= helpers =================
function hatch(color, kind, w, h, lw, bg){
  h = h || w;
  const c = document.createElement('canvas'); c.width = w; c.height = h;
  const g = c.getContext('2d');
  if (bg){ g.fillStyle = bg; g.fillRect(0,0,w,h); }
  g.strokeStyle = color; g.lineWidth = lw; g.beginPath();
  if (kind.includes('\\')) for (const o of [-w,0,w]) { g.moveTo(o,0); g.lineTo(o+w,h); }
  if (kind.includes('/')) for (const o of [-w,0,w]) { g.moveTo(o,h); g.lineTo(o+w,0); }
  if (kind.includes('-')) { g.moveTo(0,h/2); g.lineTo(w,h/2); }
  if (kind.includes('|')) { g.moveTo(w/2,0); g.lineTo(w/2,h); }
  g.stroke();
  return g.createPattern(c,'repeat');
}
function ser(arr, color, width, fillStyle){
  return {data: arr.map(p=>({x:p[0], y:p[1]})), borderColor: color, borderWidth: width,
          backgroundColor: fillStyle, fill: 'origin', pointRadius: 0,
          cubicInterpolationMode: 'monotone'};
}
const deco = {
  id: 'deco',
  beforeDraw(chart, args, o){ chart.ctx.letterSpacing = (o.ls||0) + 'px'; },
  afterDatasetsDraw(chart, args, o){
    const ctx = chart.ctx, a = chart.chartArea, X = chart.scales.x, Y = chart.scales.y;
    ctx.save(); ctx.letterSpacing = '0px';
    const fl = o.frameLeft != null ? X.getPixelForValue(o.frameLeft) : a.left;
    if (o.zero){
      ctx.strokeStyle = '#000'; ctx.lineWidth = o.zero.w; ctx.setLineDash(o.zero.dash || []);
      const y0 = Y.getPixelForValue(0);
      const xa = o.zero.from != null ? X.getPixelForValue(o.zero.from) : fl;
      const xb = o.zero.to != null ? X.getPixelForValue(o.zero.to) : a.right;
      ctx.beginPath(); ctx.moveTo(xa, y0); ctx.lineTo(xb, y0); ctx.stroke();
    }
    if (o.vdash){
      ctx.strokeStyle = '#000'; ctx.lineWidth = o.vdash.w; ctx.setLineDash(o.vdash.dash);
      const x0 = X.getPixelForValue(0);
      ctx.beginPath(); ctx.moveTo(x0, a.top); ctx.lineTo(x0, a.bottom + (o.vdash.ext||0)); ctx.stroke();
    }
    ctx.setLineDash([]);
    ctx.strokeStyle = '#000'; ctx.lineWidth = o.tw || 2;
    for (const [side, vals, len, dir] of (o.ticks||[])){
      ctx.beginPath();
      for (const v of vals){
        if (side==='l'){ const p=Y.getPixelForValue(v); ctx.moveTo(fl,p); ctx.lineTo(fl+dir*len,p); }
        if (side==='r'){ const p=Y.getPixelForValue(v); ctx.moveTo(a.right,p); ctx.lineTo(a.right-dir*len,p); }
        if (side==='t'){ const p=X.getPixelForValue(v); ctx.moveTo(p,a.top); ctx.lineTo(p,a.top+dir*len); }
        if (side==='b'){ const p=X.getPixelForValue(v); ctx.moveTo(p,a.bottom); ctx.lineTo(p,a.bottom-dir*len); }
      }
      ctx.stroke();
    }
    ctx.lineWidth = o.fw || 2.5;
    ctx.strokeRect(fl, a.top, a.right - fl, a.bottom - a.top);
    ctx.restore();
  }
};

Chart.defaults.font.family = 'Liberation Serif';
Chart.defaults.color = '#000';

function panel(cfg){
  // tick padding is added to the scale's top/bottom padding, so the layout padding must exceed it
  const PADT = cfg.yPad + 40, PADB = cfg.yPad + 40, PADR = 30;
  const a = cfg.area, yW = cfg.yW, xH = cfg.xH || 0;
  const W = yW + (a.r - a.l) + PADR, H = PADT + (a.b - a.t) + xH + PADB;
  const cv = document.createElement('canvas');
  cv.width = W; cv.height = H;
  cv.style.left = (a.l - yW) + 'px'; cv.style.top = (a.t - PADT) + 'px';
  cv.style.width = W + 'px'; cv.style.height = H + 'px';
  document.body.appendChild(cv);
  const xScale = {type:'linear', min: cfg.x[0], max: cfg.x[1], display: !!cfg.xTicks,
    grid:{display:false, drawTicks:false}, border:{display:false}};
  if (cfg.xTicks){
    xScale.afterBuildTicks = s => { s.ticks = cfg.xTicks.map(v=>({value:v})); };
    xScale.afterFit = s => { s.height = xH; };
    xScale.ticks = {autoSkip:false, maxRotation:0, padding: cfg.xPad, font: cfg.xFont, color:'#000',
      callback: (v,i) => cfg.xText[i]};
  }
  new Chart(cv, {
    type:'line',
    data:{datasets: cfg.datasets},
    options:{
      responsive:false, animation:false, events:[], devicePixelRatio:1,
      layout:{padding:{left:0, top:PADT, right:PADR, bottom:PADB}},
      plugins:{legend:{display:false}, tooltip:{enabled:false}, deco: cfg.deco},
      scales:{
        x: xScale,
        y: {type:'linear', min: cfg.y[0], max: cfg.y[1],
          grid:{display:false, drawTicks:false}, border:{display:false},
          afterBuildTicks: s => { s.ticks = cfg.yTicks.map(v=>({value:v})); },
          afterFit: s => { s.width = yW; },
          ticks:{autoSkip:false, padding: cfg.yPad, font: cfg.yFont, color:'#000',
            callback: (v,i) => cfg.yText[i]}}
      }
    },
    plugins:[deco]
  });
}

// ----- colours / patterns -----
const cMagA='#ff48c8', cGrnA='#7ce22a', cGrnCo='#22a022', cPur='#8a3fd9', cRed='#f52a2a', cLime='#7ee03a';
const cRedB='#f03030', cBlue='#3a5ed8', cMagB='#f245d2';

// (a) Mn
panel({area:{l:129,t:25,r:948,b:466}, yW:129, x:[-6,6], y:[-3,3],
  yTicks:yTickA1, yText:yLabA1, yPad:2, yFont:{family:'Liberation Serif',size:31,weight:'bold'},
  deco:{ls:6, zero:{w:3.5}, vdash:{w:2,dash:[7,5]}, fw:2.5},
  datasets:[
    ser(mnA_t2g_up,cGrnA,2.5,hatch(cGrnA,'|',13,13,1.6)),
    ser(mnA_t2g_dn,cGrnA,2.5,hatch(cGrnA,'|',13,13,1.6)),
    ser(mnA_eg_up,cMagA,2.5,hatch(cMagA,'\\/',18,18,1.6)),
    ser(mnA_eg_dn,cMagA,2.5,hatch(cMagA,'\\/',18,18,1.6))
  ]});

// (a) Co
panel({area:{l:115,t:493,r:958,b:882}, yW:115, x:[-6.01,6.01], y:[-4.18,4.17],
  yTicks:yTickA2, yText:yLabA2, yPad:59, yFont:{family:'Liberation Serif',size:30},
  deco:{zero:{w:4,dash:[14,8],to:5.9}, vdash:{w:2,dash:[7,5]}, fw:2.5, tw:2,
    ticks:[['l',[4,2,0,-2,-4],29,-1],['l',[3,1,-1,-3],14,-1],
           ['r',[2.51,0.84,-0.84,-2.51],29,1],['r',[3.35,1.67,-1.67,-3.35],16,1],
           ['t',e12,16,1],['b',e15,9,1]]},
  datasets:[
    ser(coA_eg_up,cGrnCo,2,hatch(cGrnCo,'\\',9,9,2.5)),
    ser(coA_eg_dn,cGrnCo,2,hatch(cGrnCo,'\\',9,9,2.5)),
    ser(coA_t2g_up,cPur,2.2,hatch(cPur,'\\/',26,26,1)),
    ser(coA_t2g_dn,cPur,2.2,hatch(cPur,'\\/',26,26,1))
  ]});

// (a) Nb
panel({area:{l:128,t:914,r:934,b:1286}, yW:128, x:[-6,6], y:[-1.4,0.8],
  yTicks:yTickA3, yText:yLabA3, yPad:54, yFont:{family:'Liberation Serif',size:25},
  deco:{ls:3, zero:{w:2,dash:[12,6]}, vdash:{w:2.5,dash:[8,5]}, fw:2.5, tw:2,
    ticks:[['l',[0.6,0.2,-0.2,-0.6,-1.0],14,-1],
           ['r',[0.359,-0.075,-0.518,-0.962],28,1],['r',[0.585,0.142,-0.296,-0.741,-1.178],14,1],
           ['t',e12,15,1],['b',e12,14,1]]},
  datasets:[
    ser(nbA_t2g_up,cRed,2,hatch(cRed,'-|',11,11,1.5)),
    ser(nbA_t2g_dn,cRed,2,hatch(cRed,'\\/',15,15,1.5)),
    ser(nbA_eg_up,cLime,2,hatch(cLime,'\\',10,10,1.5)),
    ser(nbA_eg_dn,cLime,2,hatch(cLime,'\\',10,10,1.5))
  ]});

// (a) Ge-p
panel({area:{l:174,t:1310,r:921,b:1650}, yW:174, xH:60, x:[-6,6], y:[-0.3,0.2],
  yTicks:yTickA4, yText:yLabA4, yPad:36, yFont:{family:'Liberation Serif',size:21},
  xTicks:xTickE, xText:xLabA4, xPad:8, xFont:{family:'Liberation Serif',size:23},
  deco:{ls:3, zero:{w:1.5}, vdash:{w:3.5,dash:[16,8]}, fw:2.5, tw:2,
    ticks:[['l',[0.15,0.05,-0.05,-0.1,-0.15,-0.25],5,1],['l',[-0.2],26,1],
           ['r',[0.1,0,-0.1,-0.2],26,1],['r',[0.15,0.05,-0.05,-0.15,-0.25],14,1],
           ['t',e12,15,1],['b',e15,8,1]]},
  datasets:[
    ser(geP_up,'#f87a24',0,'#f87a24'),
    ser(geP_dn,'#16a60a',0,'#16a60a')
  ]});

// (b) Mn
panel({area:{l:1209,t:21,r:1951,b:487}, yW:120, x:[-6,6], y:[-3.46,3.0],
  yTicks:yTickB1, yText:yLabB1, yPad:0, yFont:{family:'Liberation Sans',size:30,weight:'bold'},
  deco:{ls:6, zero:{w:4}, vdash:{w:2,dash:[8,5]}, fw:2.5},
  datasets:[
    ser(mnB_t2g_up,cLime,2.5,hatch(cLime,'\\/',14,14,1.5)),
    ser(mnB_t2g_dn,cLime,2.5,hatch(cLime,'\\/',14,14,1.5)),
    ser(mnB_eg_up,cRedB,2.5,hatch(cRedB,'\\',14,14,1.6)),
    ser(mnB_eg_dn,cRedB,2.5,hatch(cRedB,'\\',14,14,1.6))
  ]});

// (b) Co
panel({area:{l:1155,t:517,r:1963,b:852}, yW:80, x:[-6.47,6.11], y:[-3.54,3.0],
  yTicks:yTickB2, yText:yLabB2, yPad:16, yFont:{family:'Liberation Serif',size:28,weight:'bold'},
  deco:{frameLeft:-5.855, zero:{w:3,dash:[8,5],from:-6.47,to:5.54}, vdash:{w:2,dash:[6,4],ext:6}, fw:2.5, tw:2,
    ticks:[['l',[3,2,1,0,-1,-2,-3],26,-1],['l',[2.5,1.5,0.5,-0.5,-1.5,-2.5],12,-1],
           ['r',[1.69,0.38,-0.92,-2.22],26,1],['r',[2.34,1.03,-0.27,-1.57,-2.87],13,1],
           ['t',[-4.67,-3.47,-2.27,-1.07,0.13,1.33,2.53,3.73,4.93],13,1],
           ['b',[-5.26,-4.66,-4.06,-3.46,-2.86,-2.26,-1.66,-1.06,-0.46,0.14,0.74,1.34,1.94,2.54,3.14,3.74,4.34,4.94,5.54],7,1]]},
  datasets:[
    ser(coB_t2g_up,cBlue,2.5,hatch('#98a2e6','\\/',9,6,1.6,'rgba(215,219,248,0.6)')),
    ser(coB_t2g_dn,cBlue,2.5,hatch('#98a2e6','\\/',16,16,1.2)),
    ser(coB_eg_up,cRedB,2.5,hatch(cRedB,'/',12,12,1.2)),
    ser(coB_eg_dn,cRedB,2.5,hatch(cRedB,'/',12,12,1.2))
  ]});

// (b) Nb
panel({area:{l:1199,t:864,r:1977,b:1168}, yW:110, x:[-6,6], y:[-1.5,0.79],
  yTicks:yTickB3, yText:yLabB3, yPad:53, yFont:{family:'Liberation Serif',size:23,weight:'bold'},
  deco:{ls:3, zero:{w:4}, vdash:{w:3,dash:[10,6]}, fw:2.5, tw:2,
    ticks:[['l',[0.5,0,-0.5,-1,-1.5],25,-1],['l',[0.75,0.25,-0.25,-0.75,-1.25],13,-1],
           ['r',[0.75,0.5,0.25,-0.25,-0.5,-0.75,-1,-1.25],24,1],
           ['t',e12,11,1],['b',e15,8,1]]},
  datasets:[
    ser(nbB_t2g_up,cLime,2.5,hatch(cLime,'-|',28,9,1.2)),
    ser(nbB_t2g_dn,cLime,1.8,hatch(cLime,'-|',28,9,1.2)),
    ser(nbB_eg_up,cMagB,2.5,hatch(cMagB,'\\/',18,18,1.5)),
    ser(nbB_eg_dn,cMagB,2.5,hatch(cMagB,'\\/',18,18,1.5))
  ]});

// (b) Sn-p
panel({area:{l:1259,t:1202,r:2025,b:1662}, yW:120, xH:60, x:[-6,6], y:[-0.3,0.3],
  yTicks:yTickB4, yText:yLabB4, yPad:45, yFont:{family:'Liberation Sans',size:31},
  xTicks:xTickE, xText:xLabB4, xPad:15, xFont:{family:'Liberation Sans',size:31},
  deco:{ls:5, zero:{w:2.5}, vdash:{w:4,dash:[19,11]}, fw:3, tw:2.5,
    ticks:[['l',[0.3,0,-0.3],26,-1],['l',[0.15,-0.15],12,-1],
           ['r',[0.18,0.06,-0.06,-0.18],25,1],['r',[0.24,0.12,-0.12,-0.24],12,1],
           ['t',e12,18,1],['b',[-4.5,-3,-1.5,0,1.5,3,4.5],11,-1]]},
  datasets:[
    ser(snP_up,'#560000',0,'#560000'),
    ser(snP_dn,'#b044f2',0,'#b044f2')
  ]});
</script>
</body></html>
